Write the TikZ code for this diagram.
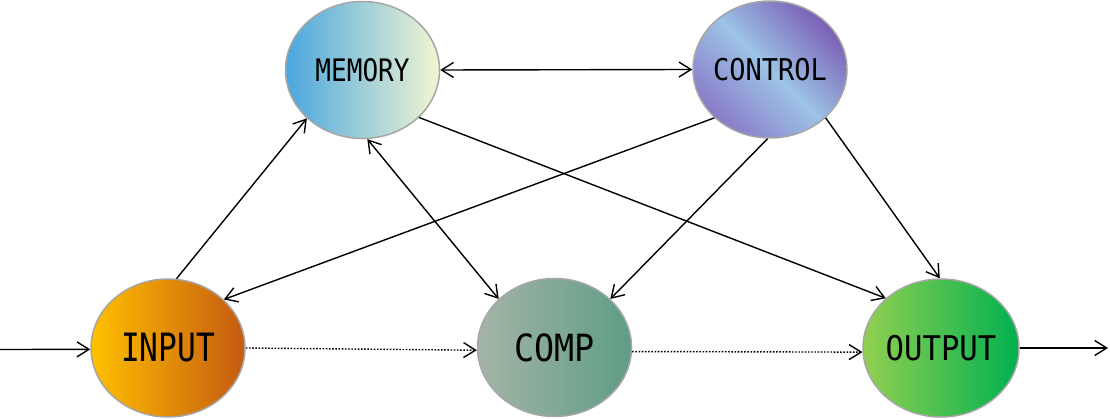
\documentclass[tikz,border=0pt]{standalone}
\usepackage{fontspec}
\usepackage{graphicx}
\usetikzlibrary{shapes.geometric,arrows.meta}
\newfontfamily\lblfont{DejaVu Sans Mono}
\definecolor{bordergray}{HTML}{A6A6A6}
\definecolor{memA}{HTML}{4AA6DE}
\definecolor{memB}{HTML}{F3F6D2}
\definecolor{ctrlA}{HTML}{8A7CC9}
\definecolor{ctrlB}{HTML}{9CC3E6}
\definecolor{ctrlC}{HTML}{7B5FB5}
\definecolor{inA}{HTML}{FFC000}
\definecolor{inB}{HTML}{C55A11}
\definecolor{compA}{HTML}{A4B4A6}
\definecolor{compB}{HTML}{5F9D86}
\definecolor{outA}{HTML}{92D050}
\definecolor{outB}{HTML}{00B050}
\pgfdeclarehorizontalshading{ctrlshade}{100bp}{color(0bp)=(ctrlA); color(25bp)=(ctrlA); color(50bp)=(ctrlB); color(75bp)=(ctrlC); color(100bp)=(ctrlC)}
\newcommand\lbl[3]{\makebox[0pt]{\scalebox{#2}[1]{\fontsize{#1}{#1}\selectfont\lblfont #3}}}
\tikzset{
  unit/.style={ellipse, draw=bordergray, line width=1.5pt, inner sep=0pt, minimum width=154pt, minimum height=137pt},
  conn/.style={line width=1.4pt, draw=black},
  dotline/.style={line width=1.4pt, draw=black, dash pattern=on 1.6pt off 1.6pt},
  >={Straight Barb[length=12pt,width=15pt]}
}
\begin{document}
\begin{tikzpicture}[x=1pt,y=-1pt]
\path[use as bounding box] (0,0) rectangle (1110,419);
\node[unit, left color=memA, right color=memB] (memory) at (362.5,70) {\lbl{31}{0.84}{MEMORY}};
\node[unit, shading=ctrlshade, shading angle=45] (control) at (770,69.5) {\lbl{30}{0.9}{CONTROL}};
\node[unit, minimum height=138pt, left color=inA, right color=inB] (input) at (168,348) {\lbl{39}{0.8}{INPUT}};
\node[unit, minimum height=138pt, left color=compA, right color=compB] (comp) at (554.5,347.5) {\lbl{37.5}{0.89}{COMP}};
\node[unit, minimum height=138pt, minimum width=156pt, left color=outA, right color=outB] (output) at (941,348) {\lbl{34}{0.9}{OUTPUT}};
\coordinate (inL) at (0,349.5);
\coordinate (outR) at (1108,348);
\draw[conn,->] (inL) -- (input.181);
\draw[conn,->] (input.83) -- (memory.221);
\draw[conn,<->] (memory.east) -- (control.west);
\draw[conn,<->] (memory.274) -- (comp.139);
\draw[conn,->] (memory.320) -- (output.138);
\draw[conn,->] (control.221) -- (input.41);
\draw[conn,->] (control.268) -- (comp.41);
\draw[conn,->] (control.319) -- (output.91);
\draw[dotline,->] (input.east) -- (comp.182);
\draw[dotline,->] (comp.357) -- (output.183);
\draw[conn,->] (output.east) -- (outR);
\end{tikzpicture}
\end{document}
